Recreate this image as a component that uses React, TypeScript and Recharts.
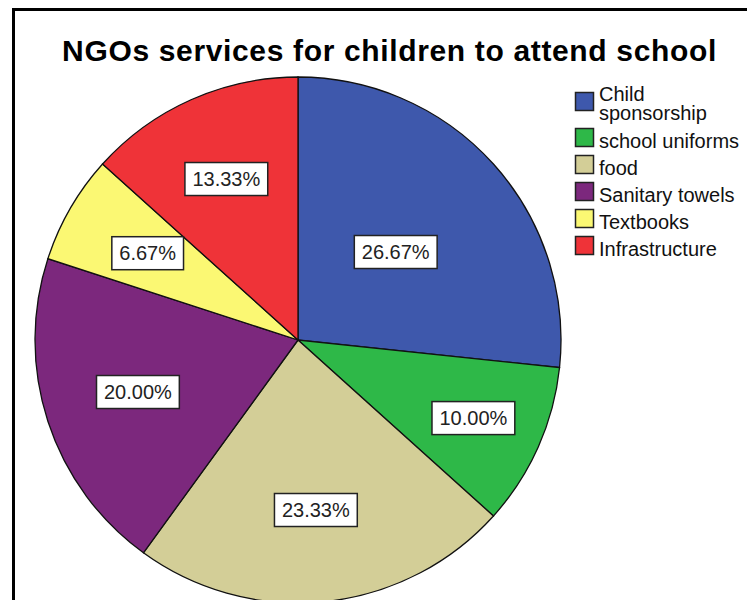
import { PieChart, Pie, Cell } from "recharts";

const categories = [
  "Child sponsorship",
  "school uniforms",
  "food",
  "Sanitary towels",
  "Textbooks",
  "Infrastructure",
];
const counts = [8, 3, 7, 6, 2, 4];
const colors = ["#3E58AC", "#2EB848", "#D3CE97", "#7C287D", "#FBF873", "#EF3338"];
// where each percentage box sits, as a fraction of the radius
const labelRadius = [0.5, 0.73, 0.65, 0.64, 0.66, 0.67];

const title = "NGOs services for children to attend school";
const total = counts.reduce((a, b) => a + b, 0);
const data = categories.map((name, i) => ({ name, value: counts[i] }));

const FONT = "'Liberation Sans', Arial, sans-serif";
const RAD = Math.PI / 180;

// rough Arial widths, good enough to size the label boxes
const charW = (c: string) => (c === "." ? 0.278 : c === "%" ? 0.889 : 0.556);

function PctLabel(props: any) {
  const { cx, cy, midAngle, outerRadius, index, value } = props;
  const r = outerRadius * labelRadius[index];
  const x = cx + r * Math.cos(-midAngle * RAD);
  const y = cy + r * Math.sin(-midAngle * RAD);
  const txt = ((value / total) * 100).toFixed(2) + "%";
  const w = txt.split("").reduce((s, c) => s + charW(c), 0) * 20 + 15;
  const h = 33;
  return (
    <g>
      <rect
        x={x - w / 2}
        y={y - h / 2}
        width={w}
        height={h}
        fill="#fff"
        stroke="#222"
        strokeWidth={1.5}
      />
      <text
        x={x}
        y={y + 7}
        textAnchor="middle"
        fontFamily={FONT}
        fontSize={20}
        fill="#222"
      >
        {txt}
      </text>
    </g>
  );
}

function wrap(s: string) {
  if (s.length <= 15) return [s];
  const k = s.indexOf(" ");
  return [s.slice(0, k), s.slice(k + 1)];
}

function LegendBox() {
  let top = 92;
  const rows = categories.map((name, i) => {
    const lines = wrap(name);
    const row = { name, lines, top, color: colors[i] };
    top += lines.length > 1 ? 36 : 27;
    return row;
  });
  return (
    <svg
      width={755}
      height={608}
      style={{ position: "absolute", left: 0, top: 0, pointerEvents: "none" }}
    >
      {rows.map((r) => (
        <g key={r.name}>
          <rect
            x={575.5}
            y={r.top + 0.5}
            width={18}
            height={18}
            fill={r.color}
            stroke="#222"
            strokeWidth={1.5}
          />
          {r.lines.map((ln, j) => (
            <text
              key={ln}
              x={599}
              y={
                r.lines.length > 1
                  ? r.top + 8.5 + j * 19
                  : r.top + 19.5
              }
              fontFamily={FONT}
              fontSize={20}
              fill="#111"
            >
              {ln}
            </text>
          ))}
        </g>
      ))}
    </svg>
  );
}

export default function App() {
  return (
    <div
      style={{
        position: "relative",
        width: 755,
        height: 608,
        margin: -8,
        overflow: "hidden",
        background: "#fff",
      }}
    >
      <div
        style={{
          position: "absolute",
          left: 12,
          top: 8,
          width: 800,
          height: 700,
          border: "3px solid #000",
        }}
      />
      <div
        style={{
          position: "absolute",
          left: 0,
          top: 36,
          width: 779,
          textAlign: "center",
          fontFamily: FONT,
          fontWeight: "bold",
          fontSize: 30,
          lineHeight: "30px",
          letterSpacing: 0.65,
          color: "#000",
          whiteSpace: "nowrap",
        }}
      >
        {title}
      </div>
      <PieChart
        width={755}
        height={608}
        margin={{ top: 0, right: 0, bottom: 0, left: 0 }}
        style={{ position: "absolute", left: 0, top: 0 }}
      >
        <Pie
          data={data}
          dataKey="value"
          nameKey="name"
          cx={298}
          cy={340}
          outerRadius={263}
          startAngle={90}
          endAngle={-270}
          stroke="#111"
          strokeWidth={1.3}
          label={PctLabel}
          labelLine={false}
          isAnimationActive={false}
        >
          {data.map((d, i) => (
            <Cell key={d.name} fill={colors[i]} />
          ))}
        </Pie>
      </PieChart>
      <LegendBox />
    </div>
  );
}
